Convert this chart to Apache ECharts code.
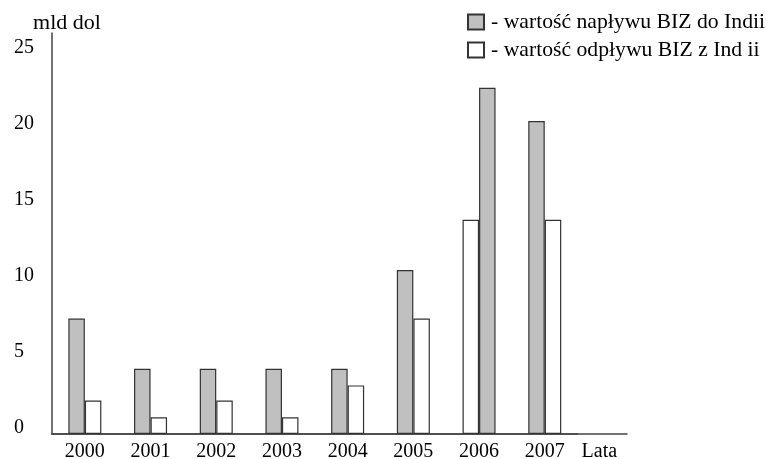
<!DOCTYPE html>
<html>
<head>
<meta charset="utf-8">
<script src="https://cdn.jsdelivr.net/npm/echarts@6/dist/echarts.min.js"></script>
<style>
  html, body { margin: 0; padding: 0; background: #fff; }
  #chart { width: 766px; height: 459px; }
</style>
</head>
<body>
<div id="chart"></div>
<script>
// Bezpośrednie inwestycje zagraniczne (BIZ) – Indie, mld dol
var years = ['2000', '2001', '2002', '2003', '2004', '2005', '2006', '2007'];
var inflow = [7.6, 4.3, 4.3, 4.3, 4.3, 10.8, 22.8, 20.6];
var outflow = [2.2, 1.1, 2.2, 1.1, 3.2, 7.6, 14.1, 14.1];
// years in which the outflow bar is drawn on the left of the pair
var outflowFirst = [false, false, false, false, false, false, true, false];

var nameIn = 'wartość napływu BIZ do Indii';
var nameOut = 'wartość odpływu BIZ z Ind ii';

var FONT = "'Liberation Serif', 'Times New Roman', serif";
var LINE = '#444';
var GREY = '#c0c0c0';

function pick(values, onLeft, wantLeft) {
  return values.map(function (v, i) {
    return (onLeft[i] === wantLeft) ? v : '-';
  });
}
var inflowLeft = outflowFirst.map(function (f) { return !f; });
var outflowLeft = outflowFirst;

var barStyleGrey = { color: GREY, borderColor: '#333', borderWidth: 1.2 };
var barStyleWhite = { color: '#fff', borderColor: '#333', borderWidth: 1.2 };

var chart = echarts.init(document.getElementById('chart'), null, { renderer: 'canvas' });
chart.setOption({
  animation: false,
  backgroundColor: '#fff',
  textStyle: { fontFamily: FONT, color: '#000' },
  legend: {
    orient: 'vertical',
    left: 462,
    top: 6,
    itemWidth: 16,
    itemHeight: 15,
    itemGap: 6,
    icon: 'rect',
    data: [nameIn, nameOut],
    formatter: function (n) { return '- ' + n; },
    textStyle: { fontFamily: FONT, fontSize: 21.7, color: '#000', padding: [0, 0, 0, 2] }
  },
  grid: [
    { left: 52, right: 188.4, top: 33, bottom: 25, outerBoundsMode: 'none' },
    { left: 52, right: 139, top: 33, bottom: 25, outerBoundsMode: 'none' }
  ],
  xAxis: [
    {
      type: 'category',
      gridIndex: 0,
      data: years,
      name: 'Lata',
      nameLocation: 'end',
      nameGap: 4,
      nameTextStyle: { fontFamily: FONT, fontSize: 20, color: '#000', verticalAlign: 'top', padding: [8, 0, 0, 0] },
      axisLine: { show: true, onZero: false, lineStyle: { color: LINE, width: 1.5 } },
      axisTick: { show: false },
      axisLabel: { fontFamily: FONT, fontSize: 20, color: '#000', margin: 8 },
      splitLine: { show: false }
    },
    {
      type: 'value',
      gridIndex: 1,
      min: 0,
      max: 1,
      axisLine: { show: true, onZero: false, lineStyle: { color: LINE, width: 1.5 } },
      axisTick: { show: false },
      axisLabel: { show: false },
      splitLine: { show: false }
    }
  ],
  yAxis: [
    {
      type: 'value',
      gridIndex: 0,
      min: 0,
      max: 26.4,
      interval: 5,
      name: 'mld dol',
      nameLocation: 'end',
      nameGap: -1,
      nameTextStyle: { fontFamily: FONT, fontSize: 22, color: '#000', align: 'center', padding: [0, 0, 0, 30] },
      axisLine: { show: true, lineStyle: { color: LINE, width: 1.5 } },
      axisTick: { show: false },
      splitLine: { show: false },
      axisLabel: {
        fontFamily: FONT,
        fontSize: 20,
        color: '#000',
        margin: 38,
        align: 'left',
        verticalAlign: 'bottom',
        lineHeight: 13,
        formatter: function (v) { return (v % 5 === 0) ? String(v) : ''; }
      }
    },
    { type: 'value', gridIndex: 1, show: false, min: 0, max: 1 }
  ],
  series: [
    {
      name: nameIn, type: 'bar', stack: 'left', barWidth: 16.5, barGap: '0%',
      itemStyle: barStyleGrey, data: pick(inflow, inflowLeft, true)
    },
    {
      name: nameOut, type: 'bar', stack: 'left', barWidth: 16.5, barGap: '0%',
      itemStyle: barStyleWhite, data: pick(outflow, outflowLeft, true)
    },
    {
      name: nameOut, type: 'bar', stack: 'right', barWidth: 16.5, barGap: '0%',
      itemStyle: barStyleWhite, data: pick(outflow, outflowLeft, false)
    },
    {
      name: nameIn, type: 'bar', stack: 'right', barWidth: 16.5, barGap: '0%',
      itemStyle: barStyleGrey, data: pick(inflow, inflowLeft, false)
    }
  ]
});
</script>
</body>
</html>
